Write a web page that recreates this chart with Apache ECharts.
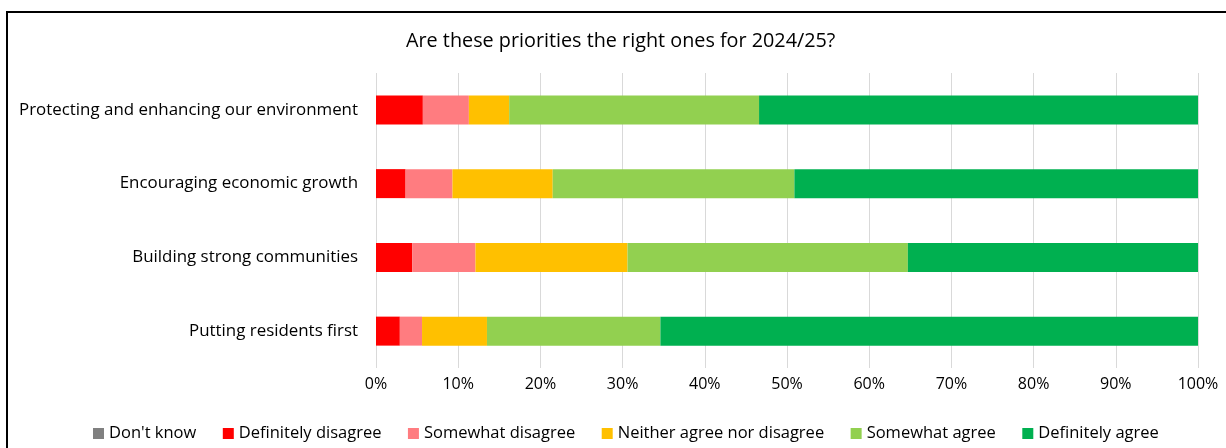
<!DOCTYPE html>
<html>
<head>
<meta charset="utf-8">
<script src="https://cdn.jsdelivr.net/npm/echarts@6/dist/echarts.min.js"></script>
<style>
  html, body { margin: 0; padding: 0; background: #fff; overflow: hidden; }
  #main { position: absolute; left: 0; top: 0; width: 1226px; height: 448px; }
  #frame { position: absolute; left: 6px; top: 11px; width: 1240px; height: 460px;
           border: 2px solid #000; pointer-events: none; }
</style>
</head>
<body>
<div id="main"></div>
<div id="frame"></div>
<script>
var priorities = [
    'Putting residents first',
    'Building strong communities',
    'Encouraging economic growth',
    'Protecting and enhancing our environment'
];
var responses = ["Don't know", 'Definitely disagree', 'Somewhat disagree',
    'Neither agree nor disagree', 'Somewhat agree', 'Definitely agree'];
var colours = ['#808080', '#FF0000', '#FF7C80', '#FFC000', '#92D050', '#00B050'];

// shares in %, same order as priorities (bottom to top)
var dontKnow = [0, 0, 0, 0];
var defDisagree = [2.9, 4.4, 3.6, 5.7];
var someDisagree = [2.7, 7.7, 5.7, 5.6];
var neither = [7.9, 18.5, 12.2, 4.9];
var someAgree = [21.1, 34.1, 29.4, 30.4];
var defAgree = [65.4, 35.3, 49.1, 53.4];

var values = [dontKnow, defDisagree, someDisagree, neither, someAgree, defAgree];

var font = '"Open Sans", sans-serif';

var myChart = echarts.init(document.getElementById('main'));

var series = responses.map(function (name, i) {
    return {
        name: name,
        type: 'bar',
        stack: 'total',
        barWidth: 29,
        itemStyle: { color: colours[i] },
        data: values[i]
    };
});

var option = {
    animation: false,
    title: {
        text: 'Are these priorities the right ones for 2024/25?',
        left: 406,
        top: 31,
        padding: 0,
        textStyle: { fontFamily: font, fontSize: 19.8, fontWeight: 'normal', color: '#000' }
    },
    legend: {
        data: responses,
        left: 93,
        top: 425,
        padding: 0,
        itemWidth: 11,
        itemHeight: 11,
        itemGap: 26.5,
        icon: 'rect',
        textStyle: { fontFamily: font, fontSize: 16.5, color: '#000' }
    },
    grid: { left: 376, right: 28, top: 73, height: 295 },
    xAxis: {
        type: 'value',
        min: 0,
        max: 100,
        interval: 10,
        axisLine: { show: false },
        axisTick: { show: false },
        splitLine: { lineStyle: { color: '#d9d9d9', width: 1 } },
        axisLabel: {
            formatter: '{value}%',
            margin: 8,
            fontFamily: font, fontSize: 16, color: '#000'
        }
    },
    yAxis: {
        type: 'category',
        data: priorities,
        axisLine: { show: false },
        axisTick: { show: false },
        axisLabel: { margin: 18, fontFamily: font, fontSize: 16.9, color: '#000' }
    },
    series: series
};

myChart.setOption(option);
</script>
</body>
</html>
